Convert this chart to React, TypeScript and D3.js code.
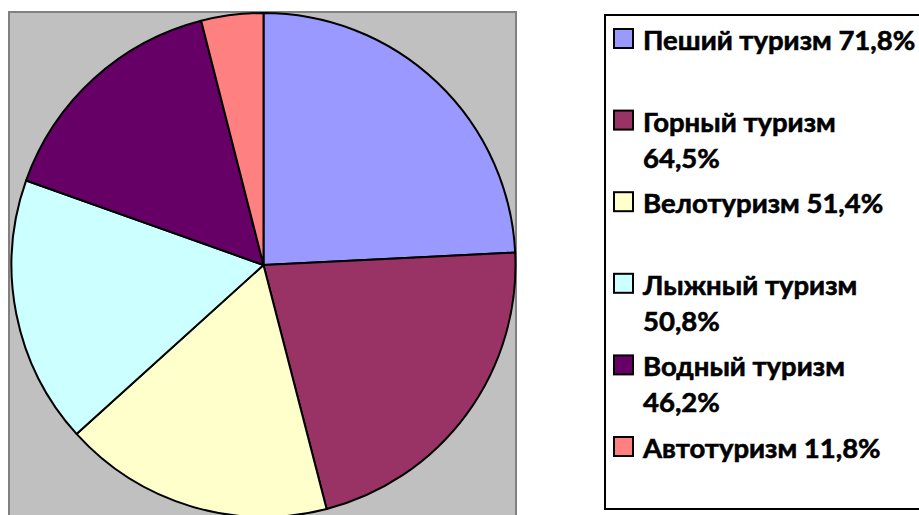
import { pie, arc } from 'd3'

// data
const categories = ['Пеший туризм', 'Горный туризм', 'Велотуризм', 'Лыжный туризм', 'Водный туризм', 'Автотуризм']
const values = [71.8, 64.5, 51.4, 50.8, 46.2, 11.8]
const valueLabels = ['71,8%', '64,5%', '51,4%', '50,8%', '46,2%', '11,8%']
// legend lines as Excel wrapped them
const legendLines = [
    ['Пеший туризм 71,8%'],
    ['Горный туризм', '64,5%'],
    ['Велотуризм 51,4%'],
    ['Лыжный туризм', '50,8%'],
    ['Водный туризм', '46,2%'],
    ['Автотуризм 11,8%'],
]
const colors = ['#9999FF', '#993366', '#FFFFCC', '#CCFFFF', '#660066', '#FF8080']

const App = () => {
    const width = 919
    const height = 515

    const cx = 263.5
    const cy = 265
    const radius = 252

    const slices = pie<number>().sort(null).value(d => d)(values)
    const arcGen = arc<any>().innerRadius(0).outerRadius(radius)

    const legendX = 605
    const legendTop = 15
    const firstBaseline = 50
    const itemStep = 81.6
    const lineStep = 36

    return (
        <svg width={width} height={height} style={{ position: 'absolute', left: 0, top: 0, background: '#fff' }}>
            <rect x={9} y={12} width={507} height={520} fill="#C0C0C0" stroke="#808080" strokeWidth={2} />
            <g transform={`translate(${cx},${cy})`}>
                {slices.map((s, i) => (
                    <path key={categories[i]} d={arcGen(s) || ''} fill={colors[i]} stroke="#000" strokeWidth={2} strokeLinejoin="round" />
                ))}
            </g>
            <rect x={legendX} y={legendTop} width={400} height={494} fill="#fff" stroke="#000" strokeWidth={2} />
            {legendLines.map((lines, i) => {
                const base = firstBaseline + i * itemStep
                return (
                    <g key={categories[i]} data-value={valueLabels[i]}>
                        <rect x={614} y={base - 21} width={19} height={19} fill={colors[i]} stroke="#000" strokeWidth={2} />
                        {lines.map((t, j) => (
                            <text key={j} x={643} y={base + j * lineStep} fontFamily="Lato, 'Open Sans', sans-serif"
                                fontWeight="bold" fontSize={27.5} fill="#000" stroke="#000" strokeWidth={0.6}>{t}</text>
                        ))}
                    </g>
                )
            })}
        </svg>
    )
}

export default App
